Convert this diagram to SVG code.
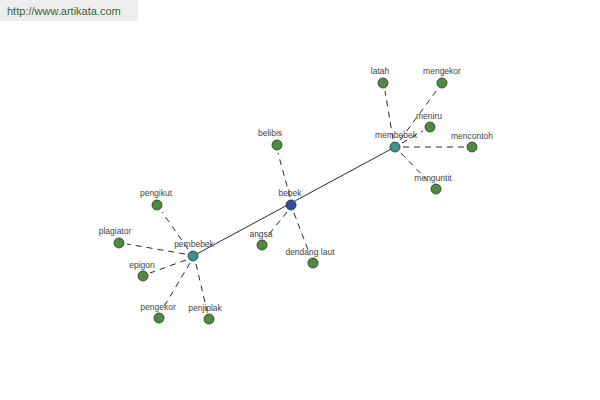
<svg xmlns="http://www.w3.org/2000/svg" width="600" height="400" viewBox="0 0 600 400">
<style>
.bg{fill:#ffffff}
.hdr{fill:#eeeeee}
.url{font-family:"Liberation Sans",Arial,sans-serif;font-size:11px;fill:#336633}
.lbl{font-family:"Liberation Sans",Arial,sans-serif;font-size:8.5px;fill:#444444;text-anchor:middle}
.leaf{fill:#4e8a42;stroke:#1f3a1a;stroke-width:0.8}
.mid{fill:#3f8f8f;stroke:#1d3f3f;stroke-width:0.8}
.core{fill:#3c4a9c;stroke:#1a2050;stroke-width:0.8}
.dash{stroke:#111;stroke-width:0.9;stroke-dasharray:6 5;fill:none}
.solid{stroke:#111;stroke-width:0.9;fill:none}
</style>
<rect class="bg" x="0" y="0" width="600" height="400"/>
<rect class="hdr" x="0" y="0" width="138" height="21"/>
<text class="url" x="7" y="15">http://www.artikata.com</text>
<g id="connectors">
<line class="solid" x1="395" y1="147" x2="193" y2="256"/>
<line class="dash" x1="393" y1="139" x2="385" y2="91"/>
<line class="dash" x1="400" y1="140" x2="437" y2="90"/>
<line class="dash" x1="402" y1="143" x2="423" y2="131"/>
<line class="dash" x1="403" y1="147" x2="464" y2="147"/>
<line class="dash" x1="401" y1="153" x2="430" y2="183"/>
<line class="dash" x1="290" y1="197" x2="278" y2="153"/>
<line class="dash" x1="287" y1="212" x2="266" y2="238"/>
<line class="dash" x1="294" y1="213" x2="310" y2="255"/>
<line class="dash" x1="188" y1="249" x2="162" y2="212"/>
<line class="dash" x1="185" y1="254" x2="127" y2="244"/>
<line class="dash" x1="186" y1="260" x2="150" y2="273"/>
<line class="dash" x1="190" y1="263" x2="162" y2="310"/>
<line class="dash" x1="196" y1="264" x2="207" y2="311"/>
</g>
<g id="n-membebek"><circle class="mid" cx="395" cy="147" r="5"/><text class="lbl" x="396" y="138">membebek</text></g>
<g id="n-bebek"><circle class="core" cx="291" cy="205" r="5"/><text class="lbl" x="290" y="196">bebek</text></g>
<g id="n-pembebek"><circle class="mid" cx="193" cy="256" r="5"/><text class="lbl" x="194" y="247">pembebek</text></g>
<g id="n-latah"><circle class="leaf" cx="383" cy="83" r="5"/><text class="lbl" x="380" y="74">latah</text></g>
<g id="n-mengekor"><circle class="leaf" cx="442" cy="83" r="5"/><text class="lbl" x="442" y="74">mengekor</text></g>
<g id="n-meniru"><circle class="leaf" cx="430" cy="127" r="5"/><text class="lbl" x="429" y="119">meniru</text></g>
<g id="n-mencontoh"><circle class="leaf" cx="472" cy="147" r="5"/><text class="lbl" x="472" y="139">mencontoh</text></g>
<g id="n-menguntit"><circle class="leaf" cx="436" cy="189" r="5"/><text class="lbl" x="433" y="181">menguntit</text></g>
<g id="n-belibis"><circle class="leaf" cx="277" cy="145" r="5"/><text class="lbl" x="270" y="136">belibis</text></g>
<g id="n-angsa"><circle class="leaf" cx="262" cy="245" r="5"/><text class="lbl" x="261" y="237">angsa</text></g>
<g id="n-dendang-laut"><circle class="leaf" cx="313" cy="263" r="5"/><text class="lbl" x="310" y="255">dendang laut</text></g>
<g id="n-pengikut"><circle class="leaf" cx="157" cy="205" r="5"/><text class="lbl" x="156" y="196">pengikut</text></g>
<g id="n-plagiator"><circle class="leaf" cx="119" cy="243" r="5"/><text class="lbl" x="115" y="234">plagiator</text></g>
<g id="n-epigon"><circle class="leaf" cx="143" cy="276" r="5"/><text class="lbl" x="142" y="268">epigon</text></g>
<g id="n-pengekor"><circle class="leaf" cx="159" cy="318" r="5"/><text class="lbl" x="158" y="310">pengekor</text></g>
<g id="n-penjiplak"><circle class="leaf" cx="209" cy="319" r="5"/><text class="lbl" x="205" y="311">penjiplak</text></g>
</svg>
